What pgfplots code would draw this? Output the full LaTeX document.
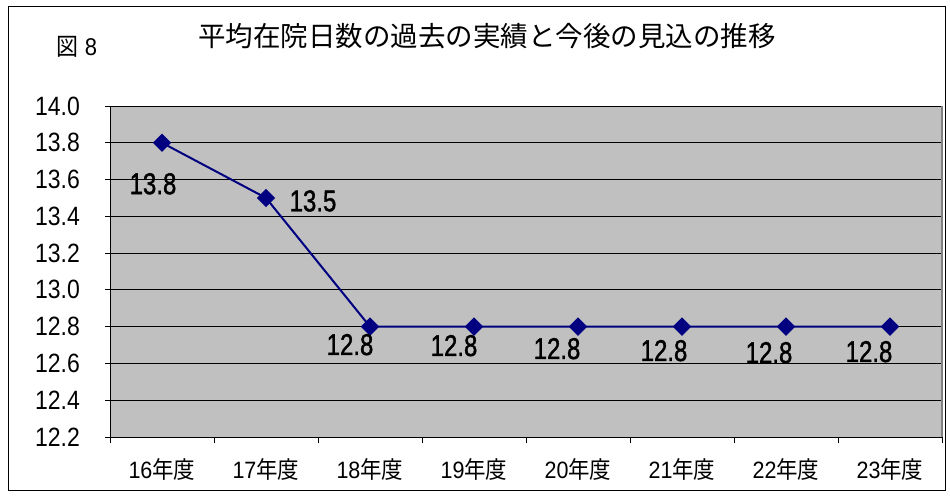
\documentclass[border=0pt]{standalone}
\usepackage{graphicx}
\usepackage{pgfplots}
\pgfplotsset{compat=1.18}
\usepackage{fontspec}
\setmainfont{Liberation Sans}
\newfontfamily\jp{Noto Sans CJK JP}
\newfontfamily\boldish[FakeBold=1.5]{Liberation Sans}
\definecolor{plotgray}{HTML}{C0C0C0}
\definecolor{navyline}{HTML}{000080}
\newcommand{\cat}[1]{\scalebox{1}[1.1]{#1{\jp 年度}}}
\pgfplotstableread{
x y dx dy
0 13.8 -9 -41
1 13.5 47 -3
2 12.8 -20 -18
3 12.8 -20 -19
4 12.8 -21 -22
5 12.8 -18 -24
6 12.8 -17 -26
7 12.8 -21 -25
}\datatable
\begin{document}
\begin{tikzpicture}[x=1pt,y=1pt]
\path[use as bounding box] (0,0) rectangle (950,-497);
\draw[line width=1pt] (8,-7) rectangle (945,-490);
\node[font=\jp\fontsize{27.5}{30}\selectfont] at (487,-36) {平均在院日数の過去の実績と今後の見込の推移};
\node[font=\fontsize{22}{24}\selectfont] at (77,-47) {\scalebox{1}[1.1]{{\jp 図} 8}};
\begin{axis}[
  at={(110pt,-437pt)}, anchor=south west,
  width=832pt, height=331pt, scale only axis,
  xmin=-0.5, xmax=7.5, ymin=12.2, ymax=14.0,
  ytick={12.2,12.4,12.6,12.8,13.0,13.2,13.4,13.6,13.8,14.0},
  xtick={0,1,2,3,4,5,6,7},
  xticklabels={{\cat{16}},{\cat{17}},{\cat{18}},{\cat{19}},{\cat{20}},{\cat{21}},{\cat{22}},{\cat{23}}},
  minor xtick={-0.5,0.5,1.5,2.5,3.5,4.5,5.5,6.5,7.5},
  major x tick style={draw=none},
  tick align=outside,
  major tick length=5pt, minor tick length=6pt,
  xtick pos=bottom, ytick pos=left,
  tick style={black, line width=0.8pt},
  axis line style={draw=none},
  axis background/.style={fill=plotgray},
  ymajorgrids, major grid style={black, line width=0.8pt},
  /pgf/number format/assume math mode=true,
  yticklabel={\scalebox{1}[1.15]{\pgfmathprintnumber[fixed,fixed zerofill,precision=1]{\tick}}},
  yticklabel style={font=\fontsize{23}{25}\selectfont, anchor=east, inner sep=0pt, xshift=-25pt},
  xticklabel style={font=\fontsize{21.5}{23}\selectfont, anchor=center, inner sep=0pt, yshift=-27pt},
  clip=false,
]
\addplot[navyline, line width=2pt, mark=square*, mark size=5.5pt, mark options={rotate=45, fill=navyline, draw=navyline},
  visualization depends on={\thisrow{dx} \as \dx},
  visualization depends on={\thisrow{dy} \as \dy},
  nodes near coords={\scalebox{1}[1.25]{\pgfmathprintnumber[fixed,fixed zerofill,precision=1]{\pgfplotspointmeta}}},
  nodes near coords style={anchor=center, inner sep=0pt, xshift=\dx pt, yshift=\dy pt, font=\boldish\fontsize{24}{26}\selectfont, text=black},
] table[x=x, y=y] {\datatable};
\draw[black, line width=0.8pt] (rel axis cs:0,0) -- (rel axis cs:0,1);
\draw[black, line width=0.8pt] (rel axis cs:0,0) -- (rel axis cs:1,0);
\draw[gray, line width=1.2pt] (rel axis cs:1,0) -- (rel axis cs:1,1);
\end{axis}
\end{tikzpicture}
\end{document}
